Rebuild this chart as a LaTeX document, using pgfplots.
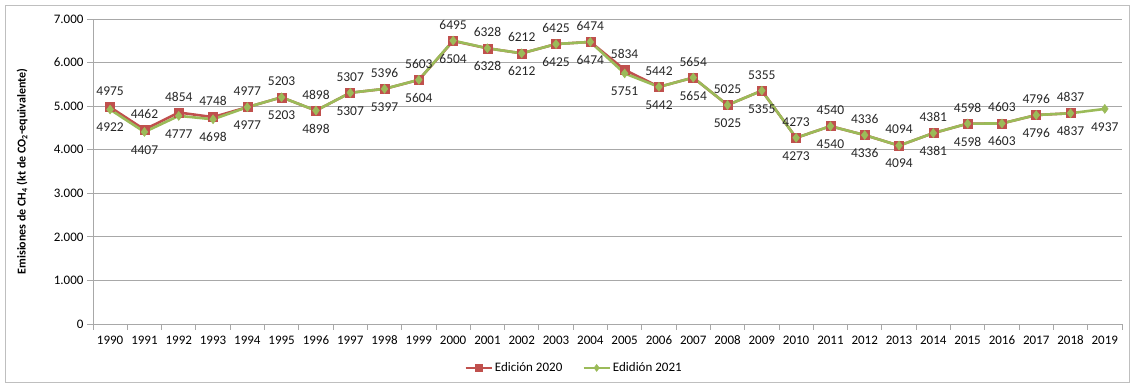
\documentclass[border=0pt]{standalone}
\usepackage{pgfplots}
\pgfplotsset{compat=1.18}
\usepackage{fontspec}
\setmainfont{Carlito}
\definecolor{edA}{HTML}{C0504D}
\definecolor{edB}{HTML}{9BBB59}
\definecolor{gridc}{HTML}{A8A8A8}
\definecolor{framec}{HTML}{BFBFBF}
\begin{document}
\begin{tikzpicture}[x=1pt,y=1pt]
\path[use as bounding box] (0,0) rectangle (1134,387);
\draw[framec, line width=0.8pt] (5,5) rectangle (1129,382);
\begin{axis}[
  at={(93pt,63pt)}, anchor=south west,
  scale only axis, width=1029pt, height=305pt,
  xmin=-0.5, xmax=29.5, ymin=0, ymax=7000,
  axis x line*=bottom, axis y line*=left,
  axis line style={gridc, line width=0.8pt},
  xtick={-0.5,0.5,...,29.5},
  x tick label as interval,
  xticklabels={1990,1991,1992,1993,1994,1995,1996,1997,1998,1999,2000,2001,2002,2003,2004,2005,2006,2007,2008,2009,2010,2011,2012,2013,2014,2015,2016,2017,2018,2019},
  ytick={0,1000,...,7000},
  yticklabel={\pgfmathprintnumber[1000 sep={.}]{\tick}},
  typeset ticklabels with strut,
  tick align=outside, major tick length=6pt,
  tick style={gridc, line width=0.8pt},
  ymajorgrids, grid style={gridc, line width=0.8pt},
  /pgf/number format/assume math mode=true,
  ticklabel style={font=\fontsize{13}{15}\selectfont},
  ylabel={\textbf{Emisiones de CH\textsubscript{4} (kt de CO\textsubscript{2}-equivalente)}},
  ylabel style={at={(axis description cs:-0.069,0.5)}, anchor=center, font=\fontsize{12}{14}\selectfont},
  clip=false,
  legend columns=2,
  legend style={at={(axis description cs:0.4675,-0.144)}, anchor=center, draw=none, fill=none,
    font=\fontsize{13}{15}\selectfont, /tikz/every even column/.append style={column sep=18pt}},
  legend cell align=left,
  legend image code/.code={\draw[mark repeat=2,mark phase=2,#1,mark size=3.5pt] plot coordinates {(0pt,0pt) (13pt,0pt) (26pt,0pt)};},
  nodes near coords,
  /pgf/number format/1000 sep={},
  every node near coord/.append style={font=\fontsize{13.5}{15}\selectfont, anchor=center, text=black!85},
]
\addplot[color=edA, line width=2.6pt, mark=square*, mark size=4.5pt, mark options={fill=edA, draw=edA, line width=0.5pt},
  nodes near coords style={yshift=16pt}] coordinates {
(0,4975) (1,4462) (2,4854) (3,4748) (4,4977) (5,5203) (6,4898) (7,5307) (8,5396) (9,5603)
(10,6495) (11,6328) (12,6212) (13,6425) (14,6474) (15,5834) (16,5442) (17,5654) (18,5025) (19,5355)
(20,4273) (21,4540) (22,4336) (23,4094) (24,4381) (25,4598) (26,4603) (27,4796) (28,4837)};
\addlegendentry{Edición 2020}
\addplot[color=edB, line width=2.6pt, mark=diamond*, mark size=4.5pt, mark options={fill=edB, draw=edB, line width=0.5pt},
  nodes near coords style={yshift=-18pt}] coordinates {
(0,4922) (1,4407) (2,4777) (3,4698) (4,4977) (5,5203) (6,4898) (7,5307) (8,5397) (9,5604)
(10,6504) (11,6328) (12,6212) (13,6425) (14,6474) (15,5751) (16,5442) (17,5654) (18,5025) (19,5355)
(20,4273) (21,4540) (22,4336) (23,4094) (24,4381) (25,4598) (26,4603) (27,4796) (28,4837) (29,4937)};
\addlegendentry{Edidión 2021}
\end{axis}
\end{tikzpicture}
\end{document}
